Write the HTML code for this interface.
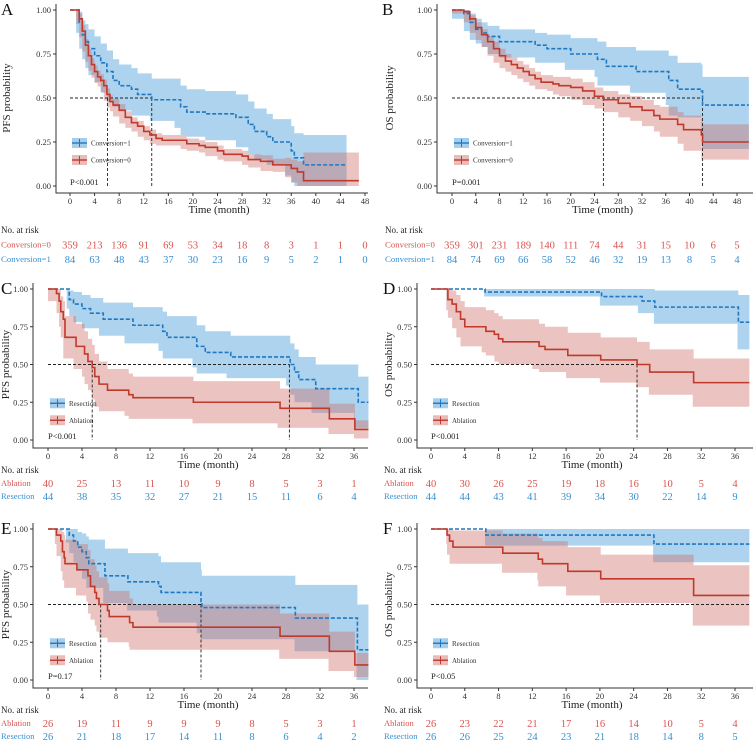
<!DOCTYPE html>
<html><head><meta charset="utf-8">
<style>
html,body{margin:0;padding:0;background:#fff;}
svg{display:block;font-family:"Liberation Serif",serif;}
</style></head>
<body>
<svg id="fig" width="753" height="741" viewBox="0 0 753 741" xmlns="http://www.w3.org/2000/svg"></svg>
<script>
// ---------- DATA ----------
const xTicksA=[0,4,8,12,16,20,24,28,32,36,40,44,48];
const xTicksC=[0,4,8,12,16,20,24,28,32,36];
const yTicks=[0,0.25,0.5,0.75,1];
const yTickLabels=["0.00","0.25","0.50","0.75","1.00"];

const A_red_t=[0,1,1.5,2,2.5,3,3.5,4,4.5,5,5.5,6,6.5,7,8,9,10,11,12,13,14,15,18,19,21,22,24,25,28,29,31,33,35,36,37,38,47];
const A_red_s=[1,1,0.95,0.88,0.8,0.74,0.69,0.65,0.62,0.6,0.57,0.52,0.48,0.46,0.43,0.39,0.36,0.34,0.31,0.29,0.27,0.26,0.26,0.24,0.23,0.22,0.2,0.18,0.17,0.15,0.14,0.12,0.12,0.1,0.08,0.03,0.03];
const A_red_ci=[0,0,0.03,0.035,0.035,0.035,0.035,0.035,0.035,0.035,0.035,0.035,0.035,0.035,0.035,0.035,0.03,0.03,0.03,0.03,0.03,0.03,0.03,0.03,0.03,0.03,0.03,0.03,0.03,0.03,0.035,0.035,0.04,0.05,0.06,0.16,0.16];
const A_blue_t=[0,1,1.5,2,2.5,3,4,5,6,7,8,10,11,13,13.3,17,18,19,22,27,29,30,32,33,35,36,36.5,38,45];
const A_blue_s=[1,1,0.93,0.86,0.82,0.78,0.74,0.7,0.65,0.6,0.57,0.55,0.52,0.52,0.49,0.49,0.45,0.42,0.41,0.39,0.35,0.31,0.28,0.25,0.25,0.2,0.16,0.12,0.12];
const A_blue_ci=[0,0,0.06,0.08,0.1,0.11,0.11,0.11,0.12,0.12,0.12,0.12,0.12,0.12,0.12,0.12,0.12,0.13,0.13,0.13,0.13,0.13,0.13,0.13,0.13,0.14,0.14,0.17,0.19];

const B_red_t=[0,2,3,4,5,6,7,8,9,10,11,12,13,14,15,16,17,18,20,22,24,25.5,28,30,32,34,35,38,39,42,42.2,50];
const B_red_s=[1,0.99,0.95,0.9,0.86,0.82,0.78,0.74,0.71,0.69,0.67,0.65,0.63,0.61,0.59,0.59,0.58,0.57,0.56,0.54,0.51,0.49,0.47,0.45,0.43,0.4,0.38,0.35,0.32,0.29,0.25,0.25];
const B_red_ci=[0,0.01,0.02,0.03,0.03,0.03,0.04,0.04,0.04,0.04,0.04,0.04,0.04,0.04,0.04,0.04,0.04,0.05,0.05,0.05,0.05,0.05,0.05,0.06,0.06,0.06,0.07,0.07,0.08,0.09,0.1,0.1];
const B_blue_t=[0,2,3,4,5,6,8,14,16,19,20,24,24.5,26,30,31,36,36.5,38,42,42.2,50];
const B_blue_s=[1,0.98,0.93,0.89,0.87,0.85,0.82,0.8,0.78,0.78,0.75,0.75,0.72,0.68,0.68,0.65,0.65,0.6,0.55,0.54,0.46,0.46];
const B_blue_ci=[0,0.03,0.05,0.06,0.06,0.06,0.07,0.07,0.08,0.08,0.09,0.09,0.1,0.11,0.11,0.12,0.12,0.14,0.15,0.15,0.16,0.25];

const C_red_t=[0,1,1.3,1.5,1.8,2,3,3.3,4,4.3,4.7,5.2,5.5,6,7,9,9.5,10,17,17.1,27,27.3,33,33.1,36,36.1,37.7];
const C_red_s=[1,0.97,0.92,0.85,0.8,0.68,0.68,0.62,0.62,0.57,0.52,0.48,0.42,0.37,0.33,0.33,0.3,0.28,0.28,0.25,0.25,0.21,0.21,0.14,0.14,0.07,0.07];
const C_red_ci=[0,0.05,0.08,0.1,0.12,0.14,0.14,0.15,0.15,0.15,0.15,0.15,0.15,0.15,0.14,0.14,0.14,0.14,0.14,0.14,0.14,0.13,0.13,0.1,0.1,0.06,0.06];
const C_blue_t=[0,2.2,2.5,3,4,5,6,6.5,9,10,13,13.5,14,17,17.5,18.5,21,21.5,28,28.5,29,29.5,31,31.5,36,36.5,37.7];
const C_blue_s=[1,1,0.93,0.9,0.87,0.84,0.84,0.8,0.8,0.76,0.76,0.72,0.68,0.68,0.62,0.58,0.58,0.55,0.55,0.5,0.45,0.4,0.4,0.34,0.34,0.25,0.25];
const C_blue_ci=[0,0,0.06,0.08,0.09,0.1,0.1,0.11,0.11,0.12,0.12,0.13,0.14,0.14,0.14,0.14,0.14,0.14,0.14,0.14,0.15,0.15,0.15,0.16,0.16,0.17,0.17];

const D_red_t=[0,1.8,2,2.5,3,3.5,4,6,6.5,7.5,8,8.5,12,12.8,13.5,16,16.2,20,20.1,24.3,24.4,25.8,25.9,31,31.1,37.7];
const D_red_s=[1,1,0.93,0.9,0.85,0.8,0.75,0.75,0.72,0.7,0.67,0.65,0.65,0.62,0.6,0.6,0.56,0.56,0.53,0.53,0.5,0.5,0.45,0.45,0.38,0.38];
const D_red_ci=[0,0,0.07,0.09,0.11,0.12,0.13,0.13,0.14,0.14,0.15,0.15,0.15,0.15,0.15,0.15,0.15,0.15,0.15,0.15,0.15,0.15,0.15,0.15,0.16,0.16];
const D_blue_t=[0,6.3,6.4,20,20.2,24.5,25,26.4,26.5,36.3,36.4,37.7];
const D_blue_s=[1,1,0.98,0.98,0.95,0.95,0.92,0.92,0.88,0.88,0.78,0.78];
const D_blue_ci=[0,0,0.03,0.03,0.06,0.06,0.08,0.08,0.11,0.11,0.18,0.18];

const E_red_t=[0,0.8,1,1.5,1.7,1.9,2,3.3,3.4,4.5,4.7,5,5.5,5.7,6,7,7.2,9.5,9.6,10,27.2,27.3,33,33.1,36,36.1,37.7];
const E_red_s=[1,1,0.96,0.92,0.85,0.81,0.77,0.77,0.73,0.73,0.69,0.62,0.58,0.54,0.5,0.46,0.42,0.42,0.38,0.35,0.35,0.29,0.29,0.19,0.19,0.1,0.1];
const E_red_ci=[0,0,0.06,0.1,0.13,0.15,0.16,0.16,0.17,0.17,0.17,0.18,0.18,0.18,0.18,0.18,0.17,0.17,0.16,0.15,0.15,0.15,0.15,0.13,0.13,0.08,0.08];
const E_blue_t=[0,2.1,2.5,3,3.5,4,4.5,4.8,6.5,6.7,9.3,9.4,12.8,13,13.3,17.5,18,18.1,29,29.1,36.3,36.4,37.7];
const E_blue_s=[1,1,0.96,0.92,0.88,0.85,0.81,0.77,0.77,0.69,0.69,0.65,0.65,0.62,0.58,0.58,0.52,0.48,0.48,0.41,0.41,0.2,0.2];
const E_blue_ci=[0,0,0.05,0.08,0.1,0.12,0.14,0.16,0.16,0.18,0.18,0.19,0.19,0.2,0.2,0.2,0.21,0.21,0.21,0.22,0.22,0.3,0.3];

const F_red_t=[0,1.8,1.9,2.2,2.6,8.4,8.5,12.6,12.7,13.2,16,16.2,20,20.1,31,31.1,37.7];
const F_red_s=[1,1,0.96,0.92,0.88,0.88,0.84,0.84,0.8,0.77,0.77,0.72,0.72,0.67,0.67,0.56,0.56];
const F_red_ci=[0,0,0.06,0.09,0.11,0.11,0.13,0.13,0.14,0.15,0.15,0.16,0.16,0.16,0.16,0.2,0.2];
const F_blue_t=[0,6.4,6.5,26.3,26.4,37.7];
const F_blue_s=[1,1,0.96,0.96,0.9,0.9];
const F_blue_ci=[0,0,0.07,0.07,0.12,0.12];

const A_risk0=[359,213,136,91,69,53,34,18,8,3,1,1,0];
const A_risk1=[84,63,48,43,37,30,23,16,9,5,2,1,0];
const B_risk0=[359,301,231,189,140,111,74,44,31,15,10,6,5];
const B_risk1=[84,74,69,66,58,52,46,32,19,13,8,5,4];
const C_risk0=[40,25,13,11,10,9,8,5,3,1];
const C_risk1=[44,38,35,32,27,21,15,11,6,4];
const D_risk0=[40,30,26,25,19,18,16,10,5,4];
const D_risk1=[44,44,43,41,39,34,30,22,14,9];
const E_risk0=[26,19,11,9,9,9,8,5,3,1];
const E_risk1=[26,21,18,17,14,11,8,6,4,2];
const F_risk0=[26,23,22,21,17,16,14,10,5,4];
const F_risk1=[26,26,25,24,23,21,18,14,8,5];

const A_medians=[6.1,13.3], B_medians=[25.5,42.2], C_medians=[5.2,28.4], D_medians=[24.4], E_medians=[6.2,18], F_medians=[];

// ---------- DRAWING ----------
const NS="http://www.w3.org/2000/svg";
const svgRoot=document.getElementById('fig');
const RED="#c0392b", BLUE="#1f78c1", RT="#d9534f", BT="#3a8fd0";
function el(tag,attrs,parent){const e=document.createElementNS(NS,tag);for(const k in attrs)e.setAttribute(k,attrs[k]);(parent||svgRoot).appendChild(e);return e;}

function panel(cfg){
  const g=el('g',{});
  
  
  const x=t=>cfg.x0+(t-cfg.t0)/(cfg.t1-cfg.t0)*(cfg.x1-cfg.x0);
  const y=s=>cfg.y0+(1-s)*(cfg.y1-cfg.y0);
  function band(ts,ss,ci,fill,op,name){
    let d="";
    for(let i=0;i<ts.length;i++){
      const h=Math.min(1,ss[i]+ci[i]);
      if(i===0){d+="M"+x(ts[0])+" "+y(h);}else{d+=" H"+x(ts[i])+" V"+y(h);}
    }
    for(let i=ts.length-1;i>=0;i--){
      const l=Math.max(0,ss[i]-ci[i]);
      d+=" V"+y(l)+" H"+x(i>0?ts[i-1]:ts[0]);
    }
    d+=" Z";
    const p=el('path',{d:d,fill:fill,'fill-opacity':op,stroke:'none'},g);
    
    
  }
  function line(ts,ss,color,dash,name){
    let d="M"+x(ts[0])+" "+y(ss[0]);
    for(let i=1;i<ts.length;i++)d+=" H"+x(ts[i])+" V"+y(ss[i]);
    const attrs={d:d,fill:'none',stroke:color,'stroke-width':1.6};
    if(dash)attrs['stroke-dasharray']=dash;
    const p=el('path',attrs,g);
    
    
  }
  band(cfg.bt,cfg.bs,cfg.bci,"#6aaee0",0.55,'blue-ci-band');
  band(cfg.rt,cfg.rs,cfg.rci,"#cc6b63",0.4,'red-ci-band');
  const mx=cfg.med.length?Math.max(...cfg.med):cfg.hEnd;
  const hl=el('line',{x1:x(0),x2:x(mx),y1:y(0.5),y2:y(0.5),stroke:'#222','stroke-width':0.9,'stroke-dasharray':'3,2'},g);
  
  
  cfg.med.forEach(m=>{
    const v=el('line',{x1:x(m),x2:x(m),y1:y(0.5),y2:y(0),stroke:'#222','stroke-width':0.9,'stroke-dasharray':'3,2'},g);
    
    
  });
  line(cfg.bt,cfg.bs,BLUE,"4,2",'blue-survival-curve');
  line(cfg.rt,cfg.rs,RED,"",'red-survival-curve');
  const ax=el('path',{d:`M${cfg.ax} ${cfg.y0-6} V${cfg.ay} H${cfg.axEnd}`,fill:'none',stroke:'#333','stroke-width':1},g);
  
  
  yTicks.forEach((v,i)=>{
    el('line',{x1:cfg.ax-3,x2:cfg.ax,y1:y(v),y2:y(v),stroke:'#333'},g);
    const t=el('text',{x:cfg.ax-5,y:y(v)+3,'font-size':8.5,'text-anchor':'end',fill:'#333'},g);
    t.textContent=yTickLabels[i];
    
    
  });
  cfg.ticks.forEach(v=>{
    el('line',{x1:x(v),x2:x(v),y1:cfg.ay,y2:cfg.ay+3,stroke:'#333'},g);
    const t=el('text',{x:x(v),y:cfg.ay+11,'font-size':8.5,'text-anchor':'middle',fill:'#333'},g);
    t.textContent=v;
    
    
  });
  const xt=el('text',{x:(cfg.x0+cfg.axEnd)/2,y:cfg.ay+20,'font-size':11,'text-anchor':'middle',fill:'#222'},g);
  xt.textContent="Time (month)";
  
  
  const yc=(cfg.y0+cfg.y1)/2;
  const yt=el('text',{x:cfg.ytx,y:yc,'font-size':11,'text-anchor':'middle',fill:'#222',transform:`rotate(-90 ${cfg.ytx} ${yc})`},g);
  yt.textContent=cfg.ylab;
  
  
  const lt=el('text',{x:cfg.lx,y:cfg.y0+5,'font-size':17,fill:'#111'},g);
  lt.textContent=cfg.letter;
  
  
  const lgx=cfg.x0+2, ly1=y(0.25)+1, ly2=y(0.25)+18;
  [[ly1,"#6aaee0",0.6,BLUE,cfg.n1],[ly2,"#cc6b63",0.45,RED,cfg.n0]].forEach(([ly,f,o,c,name])=>{
    const r=el('rect',{x:lgx,y:ly-5,width:15,height:10,fill:f,'fill-opacity':o},g);
    
    
    el('line',{x1:lgx,x2:lgx+15,y1:ly,y2:ly,stroke:c,'stroke-width':1.4},g);
    el('line',{x1:lgx+7.5,x2:lgx+7.5,y1:ly-4,y2:ly+4,stroke:c,'stroke-width':1},g);
    const t=el('text',{x:lgx+19,y:ly+2.5,'font-size':7,fill:'#333'},g);
    t.textContent=name;
    
    
  });
  const pv=el('text',{x:cfg.x0,y:y(0)-1,'font-size':8.5,fill:'#222'},g);
  pv.textContent=cfg.p;
  
  
  const rh=el('text',{x:cfg.rlx,y:cfg.riskY,'font-size':9,fill:'#222'},g);
  rh.textContent="No. at risk";
  
  
  [[cfg.r0,RT,cfg.riskY+cfg.rg,cfg.n0],[cfg.r1,BT,cfg.riskY+2*cfg.rg,cfg.n1]].forEach(([arr,c,ry,name])=>{
    const l=el('text',{x:cfg.rlx,y:ry,'font-size':cfg.rlfs,fill:c},g);
    l.textContent=name;
    
    
    arr.forEach((v,i)=>{
      const t=el('text',{x:x(cfg.ticks[i]),y:ry+1,'font-size':10.5,'text-anchor':'middle',fill:c},g);
      t.textContent=v;
      
      
    });
  });
}

const cfgTop={y0:10,y1:186,ay:193,riskY:233,rg:14.5,rlfs:8.8,t0:0,ticks:xTicksA,n0:"Conversion=0",n1:"Conversion=1",rlx:1,hEnd:48};
panel(Object.assign({},cfgTop,{letter:"A",x0:70,x1:365,t1:48,ax:56,axEnd:368,ytx:10,lx:1,ylab:"PFS probability",p:"P<0.001",
  rt:A_red_t,rs:A_red_s,rci:A_red_ci,bt:A_blue_t,bs:A_blue_s,bci:A_blue_ci,med:A_medians,r0:A_risk0,r1:A_risk1}));
panel(Object.assign({},cfgTop,{letter:"B",x0:452,x1:737,t1:48,ax:437,axEnd:753,ytx:393,lx:382,ylab:"OS probability",p:"P=0.001",rlx:385,
  rt:B_red_t,rs:B_red_s,rci:B_red_ci,bt:B_blue_t,bs:B_blue_s,bci:B_blue_ci,med:B_medians,r0:B_risk0,r1:B_risk1}));
const cfgMid={y0:289,y1:440,ay:448,riskY:473,rg:13,rlfs:8.5,t0:0,t1:36,ticks:xTicksC,n0:"Ablation",n1:"Resection",hEnd:37.7};
panel(Object.assign({},cfgMid,{letter:"C",x0:48,x1:354,ax:33,axEnd:368,ytx:9,lx:1,rlx:1,ylab:"PFS probability",p:"P<0.001",
  rt:C_red_t,rs:C_red_s,rci:C_red_ci,bt:C_blue_t,bs:C_blue_s,bci:C_blue_ci,med:C_medians,r0:C_risk0,r1:C_risk1}));
panel(Object.assign({},cfgMid,{letter:"D",x0:431,x1:735,ax:417,axEnd:753,ytx:392,lx:383,rlx:384,ylab:"OS probability",p:"P<0.001",
  rt:D_red_t,rs:D_red_s,rci:D_red_ci,bt:D_blue_t,bs:D_blue_s,bci:D_blue_ci,med:D_medians,r0:D_risk0,r1:D_risk1}));
const cfgBot={y0:529,y1:680,ay:688,riskY:713,rg:13,rlfs:8.5,t0:0,t1:36,ticks:xTicksC,n0:"Ablation",n1:"Resection",hEnd:37.7};
panel(Object.assign({},cfgBot,{letter:"E",x0:48,x1:354,ax:33,axEnd:368,ytx:9,lx:1,rlx:1,ylab:"PFS probability",p:"P=0.17",
  rt:E_red_t,rs:E_red_s,rci:E_red_ci,bt:E_blue_t,bs:E_blue_s,bci:E_blue_ci,med:E_medians,r0:E_risk0,r1:E_risk1}));
panel(Object.assign({},cfgBot,{letter:"F",x0:431,x1:735,ax:417,axEnd:753,ytx:392,lx:383,rlx:384,ylab:"OS probability",p:"P<0.05",
  rt:F_red_t,rs:F_red_s,rci:F_red_ci,bt:F_blue_t,bs:F_blue_s,bci:F_blue_ci,med:F_medians,r0:F_risk0,r1:F_risk1}));
</script>
</body></html>
